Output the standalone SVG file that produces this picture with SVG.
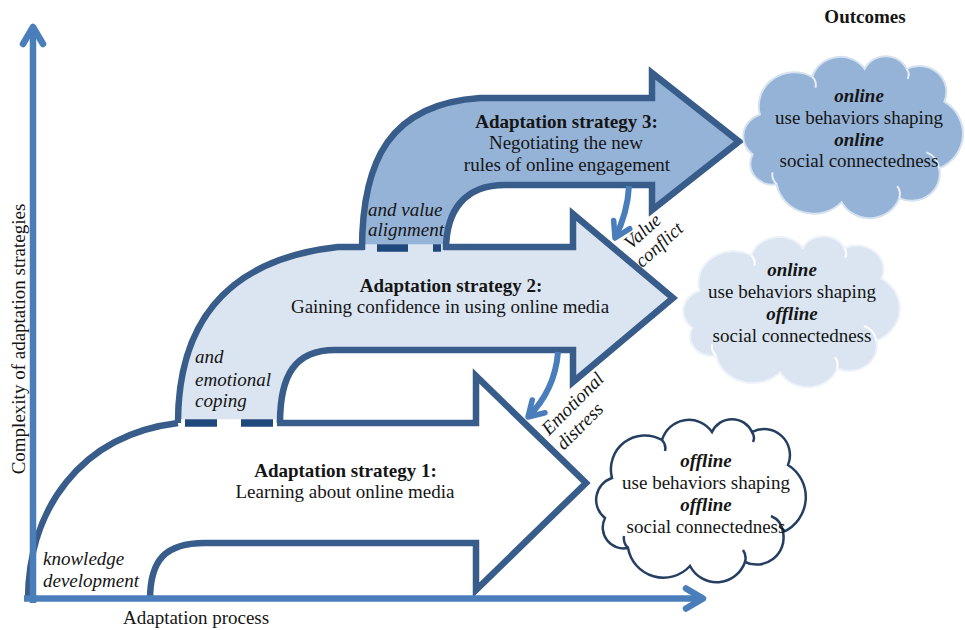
<svg xmlns="http://www.w3.org/2000/svg" xmlns:xlink="http://www.w3.org/1999/xlink" width="965" height="630" viewBox="0 0 965 630">
<style>
text{font-family:"Liberation Serif","Times New Roman",serif;font-size:19px;fill:#151515}
.b{font-weight:bold}
.i{font-style:italic}
.bi{font-weight:bold;font-style:italic}
.m{text-anchor:middle}
.ol{fill:none;stroke:#385d8a;stroke-width:6.5;stroke-linejoin:miter}
.dash{stroke:#1f497d;stroke-width:7.5}
.ax{fill:none;stroke:#4a7ebb;stroke-width:6.5}
.cv{fill:none;stroke:#4a7ebb;stroke-width:6}
</style>
<defs>
<marker id="axhead" markerUnits="userSpaceOnUse" viewBox="-25 -15 30 30" markerWidth="30" markerHeight="30" refX="0" refY="0" orient="auto" overflow="visible">
<path d="M-17,-10 L0,0 L-17,10" fill="none" stroke="#4a7ebb" stroke-width="6.5" stroke-linecap="round" stroke-linejoin="round"/>
</marker>
<marker id="cvhead" markerUnits="userSpaceOnUse" viewBox="-25 -15 30 30" markerWidth="30" markerHeight="30" refX="0" refY="0" orient="auto" overflow="visible">
<path d="M-15,-9 L0,0 L-15,9" fill="none" stroke="#4a7ebb" stroke-width="5.5" stroke-linecap="round" stroke-linejoin="round"/>
</marker>
<path id="cloudShape" vector-effect="non-scaling-stroke" d="M19,58 A34,34 0 0 1 69,20 A28,28 0 0 1 119,12 A22,22 0 0 1 159,12 A26,26 0 0 1 195,45 A38,38 0 0 1 190,112 A27,27 0 0 1 152,142 A30,30 0 0 1 97,146 A36,36 0 0 1 35,128 A21,21 0 0 1 12,98 A23,23 0 0 1 19,58 Z"/>
<path id="cloudInner" vector-effect="non-scaling-stroke" fill="none" d="M35,128 A14,14 0 0 1 31,116 M152,142 A14,14 0 0 0 150,130 M190,112 A20,20 0 0 0 178,96 M69,20 A12,12 0 0 1 72,31 M159,12 A10,10 0 0 1 160,22"/>
</defs>
<rect width="965" height="630" fill="#ffffff"/>

<g id="arrow1">
<path d="M28,600 C28,510 80,435 178,423 L476,423 L476,376 L586,483 L476,590 L476,543 L205,543 C165,543 150,560 150,600 Z" fill="#ffffff"/>
<path class="ol" d="M28,600 C28,510 80,435 178,423"/>
<path class="ol" d="M277,423 L476,423 L476,376 L586,483 L476,590 L476,543 L205,543 C165,543 150,560 150,600"/>
</g>

<g id="arrow2">
<path d="M178,423 C178,330 220,260 338,247 L573,247 L573,214 L673,298 L573,382 L573,350 L335,350 C295,350 280,375 280,423 Z" fill="#dbe5f1"/>
<path class="ol" d="M178,423 C178,330 220,260 338,247 L364,247"/>
<path class="ol" d="M444,247 L573,247 L573,214 L673,298 L573,382 L573,350 L335,350 C295,350 280,375 280,423"/>
</g>

<g id="dashes1">
<line x1="181" y1="423" x2="276" y2="423" stroke="#ffffff" stroke-width="7.5"/>
<line class="dash" x1="185" y1="423" x2="217" y2="423"/>
<line class="dash" x1="241" y1="423" x2="273" y2="423"/>
</g>

<g id="arrow3">
<path d="M362,250 C362,160 390,104 480,98 L652,98 L652,73 L739,141.5 L652,210 L652,185 L505,185 C465,185 446,210 446,250 Z" fill="#95b3d7"/>
<path class="ol" d="M362,250 C362,160 390,104 480,98 L652,98 L652,73 L739,141.5 L652,210 L652,185 L505,185 C465,185 446,210 446,250"/>
</g>

<g id="dashes2">
<line x1="365.5" y1="248" x2="442.5" y2="248" stroke="#dbe5f1" stroke-width="7.5"/>
<line class="dash" x1="377" y1="248" x2="408" y2="248"/>
<line class="dash" x1="433" y1="248" x2="441" y2="248"/>
</g>

<g id="connectors">
<path class="ax" d="M33,603 L33,27" marker-end="url(#axhead)"/>
<path class="ax" d="M24,598.5 L703,598.5" marker-end="url(#axhead)"/>
<path class="cv" d="M629,186 C628,205 623,222 615,238" marker-end="url(#cvhead)"/>
<path class="cv" d="M558,352 C556,378 545,400 528,417" marker-end="url(#cvhead)"/>
</g>

<g id="cloud1">
<use xlink:href="#cloudShape" href="#cloudShape" transform="translate(593,420)" fill="#ffffff" stroke="#243f60" stroke-width="2.5"/>
<use xlink:href="#cloudInner" href="#cloudInner" transform="translate(593,420)" stroke="#243f60" stroke-width="2.5"/>
<text class="bi m" x="706" y="467">offline</text>
<text class="m" x="706" y="489">use behaviors shaping</text>
<text class="bi m" x="706" y="511">offline</text>
<text class="m" x="706" y="533">social connectedness</text>
</g>

<g id="cloud2">
<use xlink:href="#cloudShape" href="#cloudShape" transform="translate(680,237) scale(1.033,0.926)" fill="#dbe5f1" stroke="#eef3f9" stroke-width="2"/>
<use xlink:href="#cloudInner" href="#cloudInner" transform="translate(680,237) scale(1.033,0.926)" stroke="#ffffff" stroke-width="2"/>
<text class="bi m" x="792" y="276">online</text>
<text class="m" x="792" y="298">use behaviors shaping</text>
<text class="bi m" x="792" y="320">offline</text>
<text class="m" x="792" y="342">social connectedness</text>
</g>

<g id="cloud3">
<use xlink:href="#cloudShape" href="#cloudShape" transform="translate(740,57) scale(1.048,0.994)" fill="#95b3d7" stroke="#d6e2f0" stroke-width="2"/>
<use xlink:href="#cloudInner" href="#cloudInner" transform="translate(740,57) scale(1.048,0.994)" stroke="#e8eef7" stroke-width="2"/>
<text class="bi m" x="859" y="102">online</text>
<text class="m" x="859" y="124">use behaviors shaping</text>
<text class="bi m" x="859" y="146">online</text>
<text class="m" x="859" y="167">social connectedness</text>
</g>

<g id="labels">
<text class="b m" x="345.5" y="477">Adaptation strategy 1:</text>
<text class="m" x="345" y="498">Learning about online media</text>
<text class="b m" x="451" y="292">Adaptation strategy 2:</text>
<text class="m" x="450" y="313">Gaining confidence in using online media</text>
<text class="b m" x="566.5" y="128">Adaptation strategy 3:</text>
<text class="m" x="566" y="149">Negotiating the new</text>
<text class="m" x="567" y="171">rules of online engagement</text>
<text class="i" x="368" y="216">and value</text>
<text class="i" x="368" y="236">alignment</text>
<text class="i" x="195" y="363">and</text>
<text class="i" x="195" y="386">emotional</text>
<text class="i" x="195" y="407">coping</text>
<text class="i" x="43" y="565">knowledge</text>
<text class="i" x="43" y="587">development</text>
<text class="i" transform="translate(631,250) rotate(-42)"><tspan x="0" y="0">Value</tspan><tspan x="-4" y="21">conflict</tspan></text>
<text class="i" transform="translate(549,436) rotate(-45)"><tspan x="0" y="0">Emotional</tspan><tspan x="0" y="21">distress</tspan></text>
<text class="b m" x="865" y="23">Outcomes</text>
<text x="123" y="624">Adaptation process</text>
<text class="m" transform="translate(25,339) rotate(-90)">Complexity of adaptation strategies</text>
</g>
</svg>
